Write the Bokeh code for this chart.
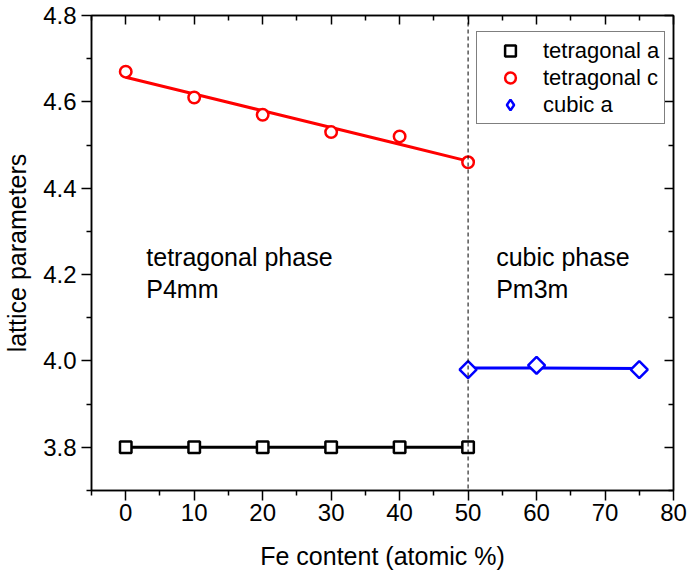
import numpy as np
from bokeh.plotting import figure
from bokeh.models import (LinearAxis, FixedTicker, NumeralTickFormatter, CustomJSTickFormatter,
                          Range1d, Span, Legend, LegendItem, ColumnDataSource)
from bokeh.core.properties import value
from bokeh.embed import file_html
from bokeh.resources import INLINE

# ---- data ----
tet_x = [0, 10, 20, 30, 40, 50]
tet_a = [3.80, 3.80, 3.80, 3.80, 3.80, 3.80]
tet_c = [4.67, 4.61, 4.57, 4.53, 4.52, 4.46]
cub_x = [50, 60, 75]
cub_a = [3.98, 3.99, 3.98]
phase_boundary = 50

x_ticks = [0, 10, 20, 30, 40, 50, 60, 70, 80]
x_minor = [-5, 5, 15, 25, 35, 45, 55, 65, 75]
y_ticks = [3.8, 4.0, 4.2, 4.4, 4.6, 4.8]
y_minor = [3.7, 3.9, 4.1, 4.3, 4.5, 4.7]

ann_text = ["tetragonal phase", "P4mm", "cubic phase", "Pm3m"]
ann_x = [3, 3, 54.1, 54.1]
ann_y = [4.24, 4.166, 4.24, 4.166]

FONT = "Liberation Sans"

p = figure(width=687, height=572, output_backend="svg", toolbar_location=None,
           x_range=Range1d(-5, 80), y_range=Range1d(3.7, 4.8),
           min_border_left=91, min_border_right=14, min_border_top=15, min_border_bottom=82)
p.xgrid.visible = False
p.ygrid.visible = False
p.outline_line_color = "black"
p.outline_line_width = 1.5
p.background_fill_color = "white"
p.border_fill_color = "white"

def style(ax, labels=True, inside=False):
    ax.axis_line_width = 1.5
    ax.axis_line_color = "black"
    ax.major_tick_line_width = 1.5
    ax.minor_tick_line_width = 1.5
    ax.major_tick_line_color = "black"
    ax.minor_tick_line_color = "black"
    if inside:
        ax.major_tick_in = 9
        ax.major_tick_out = 0
        ax.minor_tick_in = 5
        ax.minor_tick_out = 0
    else:
        ax.major_tick_in = 0
        ax.major_tick_out = 10
        ax.minor_tick_in = 0
        ax.minor_tick_out = 5
    if labels:
        ax.major_label_text_font = FONT
        ax.major_label_text_font_size = "24px"
        ax.major_label_text_color = "black"
        ax.axis_label_text_font = FONT
        ax.axis_label_text_font_size = "25px"
        ax.axis_label_text_font_style = "normal"
        ax.axis_label_text_color = "black"
    else:
        ax.formatter = CustomJSTickFormatter(code="return ''")
        ax.major_label_standoff = 0

p.xaxis.ticker = FixedTicker(ticks=x_ticks, minor_ticks=x_minor)
p.yaxis.ticker = FixedTicker(ticks=y_ticks, minor_ticks=y_minor)
p.yaxis.formatter = NumeralTickFormatter(format="0.0")
style(p.xaxis[0])
style(p.yaxis[0])
p.xaxis.axis_label = "Fe content (atomic %)"
p.yaxis.axis_label = "lattice parameters"
p.xaxis.major_label_standoff = 3
p.yaxis.major_label_standoff = 5
p.xaxis.axis_label_standoff = 18
p.yaxis.axis_label_standoff = 9

top = LinearAxis(ticker=FixedTicker(ticks=x_ticks, minor_ticks=x_minor))
style(top, labels=False, inside=True)
p.add_layout(top, "above")
right = LinearAxis(ticker=FixedTicker(ticks=y_ticks, minor_ticks=y_minor))
style(right, labels=False, inside=True)
p.add_layout(right, "right")

# phase boundary
p.add_layout(Span(location=phase_boundary, dimension="height", line_color="black",
                  line_width=1, line_dash="4 3"))

# fit lines
xa = np.array(tet_x, dtype=float)
ka, ba = np.polyfit(xa, tet_a, 1)
p.line(xa, ka * xa + ba, line_color="black", line_width=3)
kc, bc = np.polyfit(xa, tet_c, 1)
p.line(xa, kc * xa + bc, line_color="#ff0000", line_width=3)
xb = np.array(cub_x, dtype=float)
kb, bb = np.polyfit(xb, cub_a, 1)
p.line(xb, kb * xb + bb, line_color="#0000ff", line_width=3)

# markers
r1 = p.scatter(tet_x, tet_a, marker="square", size=11.5, line_width=2.5,
               line_color="black", fill_color="white")
r2 = p.scatter(tet_x, tet_c, marker="circle", size=11.5, line_width=2.5,
               line_color="#ff0000", fill_color="white")
p.scatter(cub_x, cub_a, marker="square", angle=np.pi / 4, size=12, line_width=2.5,
          line_color="#0000ff", fill_color="white")
# hidden twin used only for the legend glyph (legend glyphs ignore marker angle)
r3 = p.scatter(cub_x, cub_a, marker="diamond", size=16, line_width=2.5,
               line_color="#0000ff", fill_color="white", visible=False)

# annotations
src = ColumnDataSource(dict(x=ann_x, y=ann_y, t=ann_text))
p.text(x="x", y="y", text="t", source=src, text_font=value(FONT),
       text_font_size="25px", text_color="black", text_baseline="alphabetic",
       text_align="left")

legend = Legend(items=[LegendItem(label="tetragonal a", renderers=[r1]),
                       LegendItem(label="tetragonal c", renderers=[r2]),
                       LegendItem(label="cubic a", renderers=[r3])],
                location=(385, 366))
legend.label_text_font = FONT
legend.label_text_font_size = "22px"
legend.label_text_color = "black"
legend.padding = 5
legend.margin = 0
legend.glyph_width = 56
legend.glyph_height = 27
legend.label_height = 22
legend.label_standoff = 5
legend.spacing = 0
legend.border_line_color = "black"
legend.border_line_width = 1
legend.background_fill_alpha = 1
legend.inactive_fill_alpha = 0
p.add_layout(legend)

open("out.html", "w").write(file_html(p, INLINE))
